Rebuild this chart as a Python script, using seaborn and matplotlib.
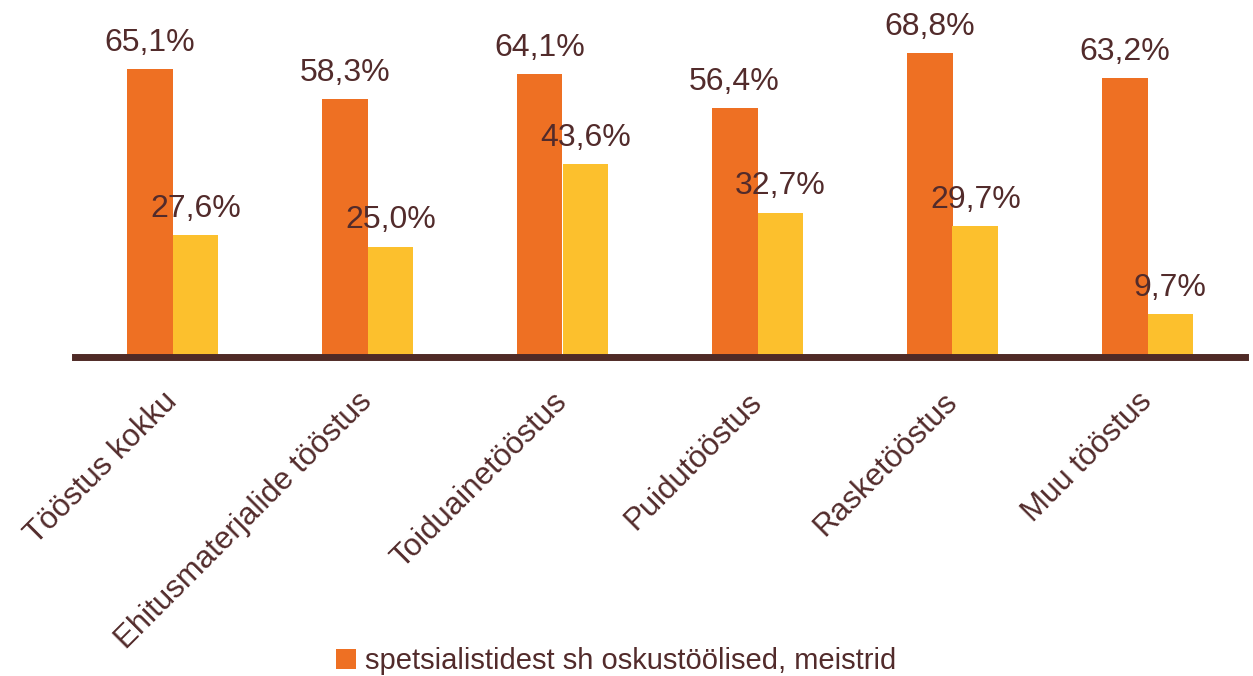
import matplotlib
matplotlib.use("Agg")
import matplotlib.pyplot as plt
import seaborn as sns
import pandas as pd
from matplotlib.patches import Patch

categories = ["Tööstus kokku", "Ehitusmaterjalide tööstus", "Toiduainetööstus",
              "Puidutööstus", "Rasketööstus", "Muu tööstus"]
series_names = ["spetsialistidest sh oskustöölised, meistrid", "oskustöölised, meistrid"]
spets = [65.1, 58.3, 64.1, 56.4, 68.8, 63.2]
oskus = [27.6, 25.0, 43.6, 32.7, 29.7, 9.7]

colors = ["#EE7023", "#FCC02D"]
txt = "#522B2B"

df = pd.DataFrame({
    "kategooria": categories * 2,
    "seeria": [series_names[0]] * len(spets) + [series_names[1]] * len(oskus),
    "osakaal": spets + oskus,
})

sns.set_style("white")
plt.rcParams["font.family"] = ["Liberation Sans", "DejaVu Sans"]

fig = plt.figure(figsize=(12.53, 6.76), dpi=100)
ax = fig.add_axes([75 / 1253, 1 - 357 / 676, 1170 / 1253, 357 / 676])

sns.barplot(data=df, x="kategooria", y="osakaal", hue="seeria", order=categories,
            hue_order=series_names, palette=colors, saturation=1, width=0.47,
            edgecolor="none", linewidth=0, ax=ax, legend=False)

for cont in ax.containers:
    vals = [b.get_height() for b in cont]
    ax.bar_label(cont, labels=[f"{v:.1f}%".replace(".", ",") for v in vals],
                 padding=8, fontsize=23, color=txt)

ax.set_xlim(-0.5, 5.5)
ax.set_ylim(0, 80.8)
ax.set_xlabel("")
ax.set_ylabel("")
ax.set_yticks([])
for s in ["top", "right", "left"]:
    ax.spines[s].set_visible(False)
ax.spines["bottom"].set_color("#4F2A26")
ax.spines["bottom"].set_linewidth(5)

ax.tick_params(axis="x", length=0, pad=29)
plt.setp(ax.get_xticklabels(), rotation=45, ha="right", va="center",
         rotation_mode="anchor", fontsize=22.5, color=txt)

handles = [Patch(facecolor=colors[0], edgecolor="none")]
fig.legend(handles, [series_names[0]], loc="center", bbox_to_anchor=(616 / 1253, 1 - 661 / 676),
           frameon=False, fontsize=21, labelcolor=txt, handlelength=0.7, handleheight=0.7,
           handletextpad=0.3)

fig.savefig("out.png", dpi=100)
